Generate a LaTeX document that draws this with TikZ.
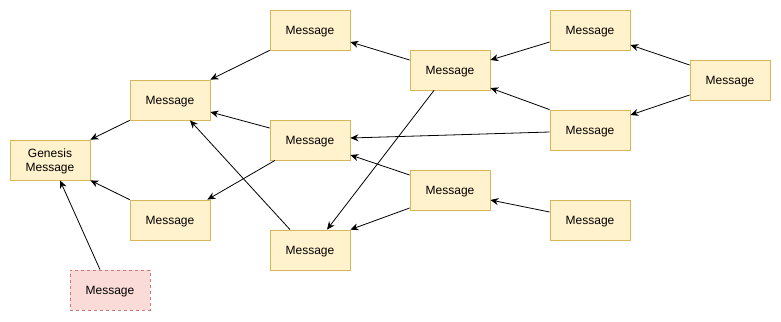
\documentclass[tikz,border=0pt]{standalone}
\usepackage{fontspec}
\setmainfont{Liberation Sans}
\usetikzlibrary{arrows.meta}
\definecolor{msgfill}{HTML}{fff2cc}
\definecolor{msgline}{HTML}{d6b656}
\definecolor{orphanfill}{HTML}{fadbd8}
\definecolor{orphanline}{HTML}{d07a76}

\begin{document}
\begin{tikzpicture}[x=1pt, y=-1pt,
  msg/.style={draw=msgline, fill=msgfill, line width=0.8pt, minimum width=80pt, minimum height=40pt, inner sep=0pt, text depth=0pt, align=center, font=\fontsize{12}{14}\selectfont},
  orphan/.style={msg, draw=orphanline, fill=orphanfill, dashed},
  link/.style={line width=0.8pt, -{Stealth[length=8pt,width=7pt]}}]
\useasboundingbox (0,0) rectangle (781,321);

% Messages
\node[msg] (gen) at (50,160) {Genesis\\Message};
\node[msg] (m1) at (170,100) {Message};
\node[msg] (m2) at (170,220) {Message};
\node[msg] (m3) at (310,30) {Message};
\node[msg] (m4) at (310,140) {Message};
\node[msg] (m5) at (310,250) {Message};
\node[msg] (m6) at (450,70) {Message};
\node[msg] (m7) at (450,190) {Message};
\node[msg] (m8) at (590,30) {Message};
\node[msg] (m9) at (590,130) {Message};
\node[msg] (m10) at (590,220) {Message};
\node[msg] (m11) at (730,80) {Message};
\node[orphan] (lone) at (110,290) {Message};

% References
\draw[link] (m1.south west) -- (gen.north east);
\draw[link] (m2.north west) -- (gen.south east);
\draw[link] ([xshift=-10pt]lone.north) -- ([xshift=10pt]gen.south);
\draw[link] (m3.south west) -- (m1.north east);
\draw[link] ([yshift=12pt]m4.west) -- ([yshift=-12pt]m1.east);
\draw[link] ([xshift=-20pt]m5.north) -- ([xshift=20pt]m1.south);
\draw[link] ([xshift=-35pt]m4.south) -- ([xshift=-3pt]m2.north east);
\draw[link] ([yshift=10pt]m6.west) -- ([yshift=-12pt]m3.east);
\draw[link] ([xshift=-16pt]m6.south) -- ([xshift=17pt]m5.north);
\draw[link] ([yshift=15pt]m7.west) -- ([yshift=-15pt]m4.east);
\draw[link] ([yshift=-18pt]m7.west) -- (m5.north east);
\draw[link] ([yshift=-12pt]m8.west) -- ([yshift=10pt]m6.east);
\draw[link] (m9.north west) -- ([yshift=-18pt]m6.east);
\draw[link] ([yshift=-2pt]m9.west) -- ([yshift=2pt]m4.east);
\draw[link] ([yshift=15pt]m11.west) -- ([yshift=-15pt]m8.east);
\draw[link] ([yshift=-15pt]m11.west) -- ([yshift=15pt]m9.east);
\draw[link] ([yshift=8pt]m10.west) -- ([yshift=-10pt]m7.east);
\end{tikzpicture}
\end{document}
